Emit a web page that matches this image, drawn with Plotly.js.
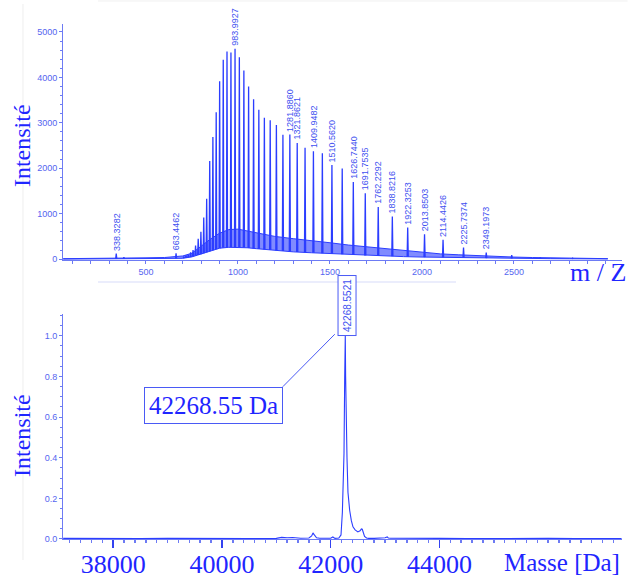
<!DOCTYPE html>
<html>
<head>
<meta charset="utf-8">
<script src="https://cdn.plot.ly/plotly-3.0.1.min.js"></script>
<style>html,body{margin:0;padding:0;background:#fff;}#chart{width:628px;height:578px;}</style>
</head>
<body>
<div id="chart"></div>
<script>
// ---- Top panel: ESI m/z spectrum ----
const mzPeaks = [338.3282, 380, 663.4462, 705.5, 717.4, 729.8, 742.6, 755.8, 769.5, 783.8, 798.5, 813.9, 829.8,
  846.4, 863.6, 881.6, 900.3, 919.9, 940.3, 961.7, 983.9927,
  1007.4, 1032.0, 1057.7, 1084.8, 1113.3, 1143.4, 1175.1, 1208.7, 1244.2,
  1281.8860, 1321.8621, 1364.5, 1409.9482, 1458.5, 1510.5620, 1566.5, 1626.7440, 1691.7535, 1762.2292,
  1838.8216, 1922.3253, 2013.8503, 2114.4426, 2225.7374, 2349.1973, 2487.6, 2642.8, 2818.9];
const intPeaks = [120, 45, 130, 60, 80, 100, 150, 200, 300, 450, 600, 915, 1330,
  2160, 2690, 3230, 3915, 4390, 4570, 4550, 4630,
  4445, 4150, 3800, 3520, 3290, 3110, 3055, 2950, 2740,
  2742, 2558, 2449, 2376, 2330, 2069, 1996, 1696, 1447, 1148,
  936, 694, 548, 424, 256, 146, 88, 35, 20];
// unresolved signal band (lower / upper envelope)
const bandMz = [50, 200, 300, 400, 500, 600, 650, 700, 750, 800, 850, 900, 950, 1000, 1050, 1100, 1200, 1300, 1400,
  1500, 1600, 1700, 1800, 1900, 2000, 2100, 2200, 2300, 2400, 2500, 2600, 2700, 2800, 2900, 3010];
const bandHigh = [10, 12, 18, 22, 28, 35, 45, 70, 130, 290, 440, 570, 650, 660, 620, 570, 500, 450, 410,
  360, 310, 270, 220, 180, 140, 115, 95, 75, 58, 45, 35, 28, 22, 15, 10];
const bandLow = [0, 2, 4, 6, 8, 10, 12, 18, 50, 110, 180, 240, 260, 260, 250, 230, 190, 160, 140,
  120, 100, 80, 65, 55, 45, 38, 30, 25, 20, 15, 12, 10, 8, 6, 4];
const peakLabels = ['338.3282', '663.4462', '983.9927', '1281.8860', '1321.8621', '1409.9482', '1510.5620',
  '1626.7440', '1691.7535', '1762.2292', '1838.8216', '1922.3253', '2013.8503', '2114.4426', '2225.7374', '2349.1973'];
const mzTicks = [500, 1000, 1500, 2000, 2500];

// ---- Bottom panel: deconvoluted mass spectrum ----
const massDa = [37080, 37500, 38000, 38500, 39000, 39500, 40000, 40500, 41000, 41100, 41200, 41300, 41450, 41600,
  41650, 41675, 41700, 41740, 41800, 41900, 42000, 42040, 42060, 42080, 42150, 42190, 42215, 42235, 42245, 42258,
  42268.55, 42275, 42288, 42300, 42318, 42335, 42350, 42380, 42410, 42450, 42500, 42540, 42565, 42581, 42600,
  42623, 42660, 42700, 42800, 42900, 43000, 43040, 43060, 43100, 43300, 43600, 44000, 44500, 45000, 45500, 46000,
  46500, 47000, 47350];
const massInt = [0.003, 0.002, 0.003, 0.002, 0.003, 0.002, 0.003, 0.002, 0.003, 0.008, 0.006, 0.007, 0.004, 0.005,
  0.015, 0.03, 0.02, 0.006, 0.004, 0.003, 0.004, 0.01, 0.004, 0.003, 0.005, 0.02, 0.13, 0.3, 0.42, 0.8,
  1.0, 0.8, 0.54, 0.4, 0.23, 0.17, 0.14, 0.09, 0.06, 0.045, 0.035, 0.04, 0.05, 0.048, 0.03,
  0.013, 0.005, 0.003, 0.003, 0.004, 0.006, 0.01, 0.005, 0.004, 0.003, 0.002, 0.003, 0.002, 0.003, 0.002, 0.003,
  0.002, 0.003, 0.002];
const massTicks = [38000, 40000, 42000, 44000];
const massTickText = ['38000', '40000', '42000', '44000'];
const mainMass = 42268.55;
const mainMassLabel = '42268.5521';
const mainMassBox = '42268.55 Da';

// ---- styles ----
const lineCol = '#2b3dff';
const axisCol = '#6d7bf4';
const tickCol = '#5565f0';
const titleCol = '#1f26ff';
const serif = 'Liberation Serif, Times New Roman, serif';
const sans = 'Liberation Sans, Arial, sans-serif';

function lowAt(m) {
  for (let i = 0; i < bandMz.length - 1; i++) {
    if (m >= bandMz[i] && m <= bandMz[i + 1]) {
      const t = (m - bandMz[i]) / (bandMz[i + 1] - bandMz[i]);
      return bandLow[i] + t * (bandLow[i + 1] - bandLow[i]);
    }
  }
  return 0;
}

// spikes built from peak arrays
const spikeX = [], spikeY = [];
mzPeaks.forEach((m, i) => {
  const b = lowAt(m);
  spikeX.push(m - 3, m, m + 3, null);
  spikeY.push(b, intPeaks[i], b, null);
});

const traces = [
  {x: bandMz, y: bandLow, xaxis: 'x', yaxis: 'y', mode: 'lines', line: {color: lineCol, width: 1}, hoverinfo: 'skip'},
  {x: bandMz, y: bandHigh, xaxis: 'x', yaxis: 'y', mode: 'lines', fill: 'tonexty',
   fillcolor: 'rgba(43,61,255,0.6)', line: {color: lineCol, width: 1}, hoverinfo: 'skip'},
  {x: spikeX, y: spikeY, xaxis: 'x', yaxis: 'y', mode: 'lines', line: {color: lineCol, width: 1.3}, connectgaps: false},
  {x: massDa, y: massInt, xaxis: 'x2', yaxis: 'y2', mode: 'lines', line: {color: lineCol, width: 1.1}}
];

const annotations = [];
peakLabels.forEach(lbl => {
  const v = parseFloat(lbl);
  let idx = 0, best = 1e9;
  mzPeaks.forEach((m, i) => { if (Math.abs(m - v) < best) { best = Math.abs(m - v); idx = i; } });
  annotations.push({x: mzPeaks[idx], y: intPeaks[idx], xref: 'x', yref: 'y', text: lbl, textangle: -90,
    showarrow: false, xanchor: 'center', yanchor: 'bottom', yshift: 1,
    font: {family: sans, size: 9, color: '#4050f0'}});
});
// small label box at the deconvoluted peak
annotations.push({x: mainMass, y: 1.0, xref: 'x2', yref: 'y2', text: mainMassLabel, textangle: -90,
  showarrow: false, xanchor: 'center', yanchor: 'bottom', xshift: 1.5, yshift: 0,
  bordercolor: '#4a5af5', borderwidth: 1, borderpad: 3, bgcolor: 'white',
  font: {family: sans, size: 10, color: '#4050f0'}});
// big label box
annotations.push({x: mainMass, y: 1.0, xref: 'x2', yref: 'y2', text: mainMassBox,
  showarrow: false, xanchor: 'right', yanchor: 'top', xshift: -62.5, yshift: -51,
  bordercolor: '#4a5af5', borderwidth: 1, borderpad: 4, bgcolor: 'white',
  font: {family: serif, size: 25, color: titleCol}});
// axis titles
annotations.push({xref: 'paper', yref: 'paper', x: -0.0733, y: 0.763, text: 'Intensité', textangle: -90,
  showarrow: false, xanchor: 'center', yanchor: 'middle', font: {family: serif, size: 24, color: titleCol}});
annotations.push({xref: 'paper', yref: 'paper', x: -0.0733, y: 0.200, text: 'Intensité', textangle: -90,
  showarrow: false, xanchor: 'center', yanchor: 'middle', font: {family: serif, size: 24, color: titleCol}});
annotations.push({xref: 'paper', yref: 'paper', x: 1.011, y: 0.518, text: 'm / Z',
  showarrow: false, xanchor: 'right', yanchor: 'middle', font: {family: serif, size: 26, color: titleCol}});
annotations.push({xref: 'paper', yref: 'paper', x: 1.0, y: -0.045, text: 'Masse [Da]',
  showarrow: false, xanchor: 'right', yanchor: 'middle', font: {family: serif, size: 25, color: titleCol}});
// cropped panel letter
annotations.push({xref: 'paper', yref: 'paper', x: -0.02, y: 1.045, text: 'g',
  showarrow: false, xanchor: 'center', yanchor: 'bottom', font: {family: sans, size: 30, color: '#111'}});

const shapes = [
  // connector from big box to small label box (pixel offsets from the peak top)
  {type: 'line', xref: 'x2', yref: 'y2', xsizemode: 'pixel', ysizemode: 'pixel', xanchor: mainMass, yanchor: 1.0,
   x0: -62.5, y0: -51, x1: -10.5, y1: 1.5, line: {color: '#4a5af5', width: 1}},
  // faint page artefacts
  {type: 'line', xref: 'paper', yref: 'paper', x0: -0.0716, x1: -0.0716, y0: -0.041, y1: 1.039, line: {color: '#efefef', width: 1}},
  {type: 'line', xref: 'paper', yref: 'paper', x0: 0.0626, x1: 0.703, y0: 0.499, y1: 0.499, line: {color: '#e4e7fb', width: 1.5}},
  {type: 'line', xref: 'paper', yref: 'paper', x0: 0.0626, x1: 1.01, y0: 1.0447, y1: 1.0447, line: {color: '#f0f0f0', width: 1}}
];

const common = {showgrid: false, zeroline: false, showline: true, linecolor: axisCol, linewidth: 1,
  ticks: 'outside', tickcolor: axisCol};

const layout = {
  width: 628, height: 578, margin: {l: 63, r: 6, t: 24, b: 39},
  paper_bgcolor: 'white', plot_bgcolor: 'white', showlegend: false,
  xaxis: Object.assign({}, common, {domain: [0, 1], anchor: 'y', range: [49, 3087],
    tickmode: 'array', tickvals: mzTicks, ticklen: 3,
    tickfont: {family: sans, size: 9, color: tickCol},
    minor: {tick0: 0, dtick: 100, ticks: 'outside', ticklen: 3, tickcolor: axisCol, showgrid: false}}),
  yaxis: Object.assign({}, common, {domain: [0.5417, 1], anchor: 'x', range: [-20, 5175],
    tick0: 0, dtick: 1000, ticklen: 3,
    tickfont: {family: sans, size: 9, color: tickCol},
    minor: {tick0: 0, dtick: 200, ticks: 'outside', ticklen: 2, tickcolor: axisCol, showgrid: false}}),
  xaxis2: Object.assign({}, common, {domain: [0, 1], anchor: 'y2', range: [37077, 47358],
    tickmode: 'array', tickvals: massTicks, ticktext: massTickText, ticklen: 8, tickwidth: 1.5, tickcolor: '#3343f0',
    ticklabelstandoff: -6,
    tickfont: {family: serif, size: 26, color: titleCol},
    minor: {tick0: 0, dtick: 200, ticks: 'outside', ticklen: 3, tickcolor: axisCol, showgrid: false}}),
  yaxis2: Object.assign({}, common, {domain: [0, 0.4369], anchor: 'x2', range: [0, 1.107],
    tick0: 0, dtick: 0.2, tickformat: '.1f', ticklen: 3,
    tickfont: {family: sans, size: 9, color: tickCol},
    minor: {tick0: 0, dtick: 0.05, ticks: 'outside', ticklen: 2, tickcolor: axisCol, showgrid: false}}),
  annotations: annotations,
  shapes: shapes
};

Plotly.newPlot('chart', traces, layout, {displayModeBar: false, staticPlot: true});
</script>
</body>
</html>
